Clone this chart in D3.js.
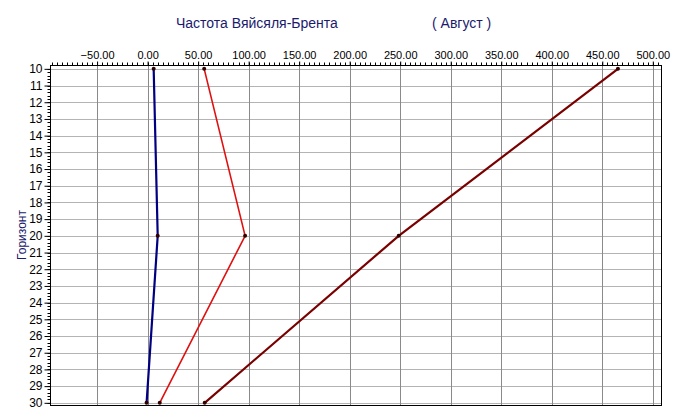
<!DOCTYPE html>
<html><head><meta charset="utf-8">
<script src="https://cdn.jsdelivr.net/npm/d3@7"></script>
<style>
html,body{margin:0;padding:0;background:#fff;}
svg{display:block;}
text{font-family:"Liberation Sans",Arial,sans-serif;}
</style></head>
<body>
<svg id="c" width="675" height="419"></svg>
<script>
const horizons = [10, 20, 30];
const seriesBlue = [6, 10, -1];
const seriesRed = [56, 96.5, 12];
const seriesDarkRed = [465.5, 248.5, 56.5];
const xTicks = [-50, 0, 50, 100, 150, 200, 250, 300, 350, 400, 450, 500];
const yTicks = d3.range(10, 31);
const titleText = "Частота Вяйсяля-Брента";
const monthText = "( Август )";
const yLabel = "Горизонт";

(function () {
const svg = d3.select("#c");
const pL = 50.5, pR = 661.5, pT = 65.5, pB = 405.5;
const x = d3.scaleLinear().domain([-96.1, 508.6]).range([pL, pR]);
const y = d3.scaleLinear().domain([9.80, 30.16]).range([pT, pB]);

// gridlines
svg.append("g").selectAll("line").data(yTicks).join("line")
  .attr("x1", pL).attr("x2", pR)
  .attr("y1", d => Math.round(y(d)) + 0.5).attr("y2", d => Math.round(y(d)) + 0.5)
  .attr("stroke", "#b4b4b4").attr("stroke-width", 1);
svg.append("g").selectAll("line").data(xTicks).join("line")
  .attr("y1", pT).attr("y2", pB)
  .attr("x1", d => Math.round(x(d)) + 0.5).attr("x2", d => Math.round(x(d)) + 0.5)
  .attr("stroke", "#8a8a8a").attr("stroke-width", 1);

// frame
svg.append("rect").attr("x", pL).attr("y", pT)
  .attr("width", pR - pL).attr("height", pB - pT)
  .attr("fill", "none").attr("stroke", "#000").attr("stroke-width", 1);

// top axis minor ticks
const xMinor = d3.range(-95, 509, 5);
svg.append("g").selectAll("line").data(xMinor).join("line")
  .attr("x1", d => Math.round(x(d)) + 0.5).attr("x2", d => Math.round(x(d)) + 0.5)
  .attr("y1", pT - 3).attr("y2", pT).attr("stroke", "#000");
const xAxis = d3.axisTop(x).tickValues(xTicks).tickFormat(d3.format(".2f")).tickSize(4).tickPadding(3);
const gx = svg.append("g").attr("transform", `translate(0,${pT})`).call(xAxis);
gx.select(".domain").remove();
gx.selectAll(".tick line").attr("stroke", "#000");
gx.selectAll(".tick text").attr("font-size", 11).attr("fill", "#000")
  .attr("font-family", "Liberation Sans, Arial, sans-serif");

// left axis minor ticks
const yMinor = d3.range(50, 151).map(v => v / 5);
svg.append("g").selectAll("line").data(yMinor).join("line")
  .attr("y1", d => Math.round(y(d)) + 0.5).attr("y2", d => Math.round(y(d)) + 0.5)
  .attr("x1", pL - 3).attr("x2", pL).attr("stroke", "#000");
const yAxis = d3.axisLeft(y).tickValues(yTicks).tickFormat(d3.format("d")).tickSize(6).tickPadding(2);
const gy = svg.append("g").attr("transform", `translate(${pL},0)`).call(yAxis);
gy.select(".domain").remove();
gy.selectAll(".tick line").attr("stroke", "#000");
gy.selectAll(".tick text").attr("font-size", 12).attr("fill", "#000")
  .attr("font-family", "Liberation Sans, Arial, sans-serif");

// series
const series = [
  {vals: seriesBlue, color: "#000080", w: 2.2},
  {vals: seriesRed, color: "#e01010", w: 1.6},
  {vals: seriesDarkRed, color: "#7a0000", w: 2.2}
];
const line = d3.line().x(d => x(d[0])).y(d => y(d[1]));
series.forEach(s => {
  const pts = horizons.map((h, i) => [s.vals[i], h]);
  svg.append("path").datum(pts).attr("d", line)
    .attr("fill", "none").attr("stroke", s.color).attr("stroke-width", s.w);
  svg.append("g").selectAll("circle").data(pts).join("circle")
    .attr("cx", d => x(d[0])).attr("cy", d => y(d[1])).attr("r", 2)
    .attr("fill", "#300000");
});

// titles
svg.append("text").attr("x", 176).attr("y", 28).attr("font-size", 14)
  .attr("fill", "#1a1a6e").text(titleText);
svg.append("text").attr("x", 432).attr("y", 28).attr("font-size", 14)
  .attr("fill", "#1a1a6e").text(monthText);
svg.append("text").attr("transform", "translate(26,235) rotate(-90)")
  .attr("text-anchor", "middle").attr("font-size", 12).attr("fill", "#1a1a6e").text(yLabel);
})();
</script>
</body></html>
